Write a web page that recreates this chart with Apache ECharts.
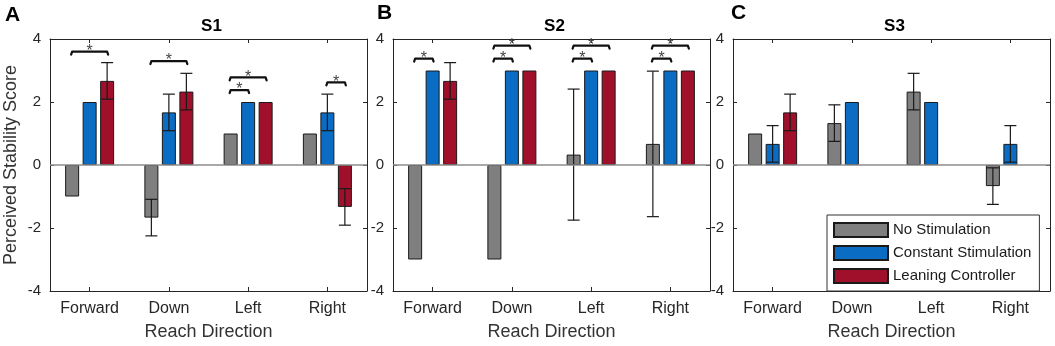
<!DOCTYPE html>
<html>
<head>
<meta charset="utf-8">
<script src="https://cdn.jsdelivr.net/npm/echarts@6/dist/echarts.min.js"></script>
<style>
  html, body { margin: 0; padding: 0; background: #fff; }
  #main { width: 1055px; height: 346px; }
</style>
</head>
<body>
<div id="main"></div>
<script>
// ---------- data ----------
var categories = ['Forward', 'Down', 'Left', 'Right'];
var seriesNames = ['No Stimulation', 'Constant Stimulation', 'Leaning Controller'];
var panelTitles = ['S1', 'S2', 'S3'];
var panelLetters = ['A', 'B', 'C'];

// mean scores, one array per condition
var s1None  = [-1, -1.67, 1, 1];
var s1Const = [2, 1.67, 2, 1.67];
var s1Lean  = [2.67, 2.33, 2, -1.33];
var s2None  = [-3, -3, 0.33, 0.67];
var s2Const = [3, 3, 3, 3];
var s2Lean  = [2.67, 3, 3, 3];
var s3None  = [1, 1.33, 2.33, -0.67];
var s3Const = [0.67, 2, 2, 0.67];
var s3Lean  = [1.67, null, null, null];

// standard deviations (0 = no error bar)
var s1NoneSd  = [0, 0.58, 0, 0];
var s1ConstSd = [0, 0.58, 0, 0.58];
var s1LeanSd  = [0.58, 0.58, 0, 0.58];
var s2NoneSd  = [0, 0, 2.08, 2.31];
var s2ConstSd = [0, 0, 0, 0];
var s2LeanSd  = [0.58, 0, 0, 0];
var s3NoneSd  = [0, 0.58, 0.58, 0.58];
var s3ConstSd = [0.58, 0, 0, 0.58];
var s3LeanSd  = [0.58, 0, 0, 0];

// significance brackets: [category, from condition, to condition, height]
var s1Sig = [[0, 0, 2, 3.6], [1, 0, 2, 3.3], [2, 0, 1, 2.38], [2, 0, 2, 2.78], [3, 1, 2, 2.62]];
var s2Sig = [[0, 0, 1, 3.38], [1, 0, 1, 3.38], [1, 0, 2, 3.79], [2, 0, 1, 3.38], [2, 0, 2, 3.79],
             [3, 0, 1, 3.38], [3, 0, 2, 3.79]];
var s3Sig = [];

var yTicks = [-4, -2, 0, 2, 4];

var panels = [
  { means: [s1None, s1Const, s1Lean], sds: [s1NoneSd, s1ConstSd, s1LeanSd], sig: s1Sig },
  { means: [s2None, s2Const, s2Lean], sds: [s2NoneSd, s2ConstSd, s2LeanSd], sig: s2Sig },
  { means: [s3None, s3Const, s3Lean], sds: [s3NoneSd, s3ConstSd, s3LeanSd], sig: s3Sig }
];

// ---------- layout ----------
var colors = ['#7f7f7f', '#0b6cc4', '#a0102b'];
var FONT = 'Liberation Sans, Arial, sans-serif';
var BAR_W = 14;
var BAR_STEP = BAR_W * 1.25;   // barWidth + barGap (25%)
var CAP = 12;
var gridLefts = [50, 393, 733];
var GRID_W = 317, GRID_TOP = 39, GRID_H = 257;
var ink = '#262626';

var chart = echarts.init(document.getElementById('main'));

function errRender(params, api) {
  var c = api.value(0), s = api.value(1), m = api.value(2), d = api.value(3);
  var top = api.coord([c, m + d]);
  var bot = api.coord([c, m - d]);
  var x = top[0] + (s - 1) * BAR_STEP;
  var st = { stroke: '#1a1a1a', lineWidth: 1.2 };
  return {
    type: 'group',
    children: [
      { type: 'line', shape: { x1: x, y1: top[1], x2: x, y2: bot[1] }, style: st },
      { type: 'line', shape: { x1: x - CAP / 2, y1: top[1], x2: x + CAP / 2, y2: top[1] }, style: st },
      { type: 'line', shape: { x1: x - CAP / 2, y1: bot[1], x2: x + CAP / 2, y2: bot[1] }, style: st }
    ]
  };
}

function sigRender(params, api) {
  var c = api.value(0), a = api.value(1), b = api.value(2), h = api.value(3);
  var p = api.coord([c, h]);
  var x1 = p[0] + (a - 1) * BAR_STEP - 1;
  var x2 = p[0] + (b - 1) * BAR_STEP + 1;
  var y = p[1];
  return {
    type: 'group',
    children: [
      { type: 'polyline',
        shape: { points: [[x1, y + 3], [x1 + 1, y], [x2 - 1, y], [x2, y + 3]] },
        style: { stroke: '#111', lineWidth: 2.2, fill: null, lineCap: 'round', lineJoin: 'round' } },
      { type: 'text', z2: 10,
        style: { x: (x1 + x2) / 2, y: y, text: '*', fill: '#444', fontSize: 16,
                 fontFamily: FONT, align: 'center', verticalAlign: 'middle' } }
    ]
  };
}

var grids = [], xAxes = [], yAxes = [], series = [], titles = [];

panels.forEach(function (pn, g) {
  grids.push({ left: gridLefts[g], top: GRID_TOP, width: GRID_W, height: GRID_H });

  var frameLine = { show: true, onZero: false, lineStyle: { color: ink, width: 1 } };
  var tick = { show: true, inside: true, length: 4, alignWithLabel: true, lineStyle: { color: ink } };

  // bottom and top x axes (frame + inside ticks)
  xAxes.push({
    type: 'category', gridIndex: g, data: categories, position: 'bottom',
    axisLine: frameLine, axisTick: tick,
    axisLabel: { color: ink, fontSize: 16, fontFamily: FONT, margin: 10 },
    name: 'Reach Direction', nameLocation: 'middle', nameGap: 32,
    nameTextStyle: { color: '#333', fontSize: 18, fontFamily: FONT }
  });
  xAxes.push({
    type: 'category', gridIndex: g, data: categories, position: 'top',
    axisLine: frameLine, axisTick: tick, axisLabel: { show: false }
  });

  // left and right y axes
  yAxes.push({
    type: 'value', gridIndex: g, position: 'left', min: yTicks[0], max: yTicks[yTicks.length - 1], interval: 2,
    axisLine: frameLine, axisTick: { show: true, inside: true, length: 4, lineStyle: { color: ink } },
    splitLine: { show: false },
    axisLabel: { color: ink, fontSize: 15, fontFamily: FONT, margin: 9 },
    name: g === 0 ? 'Perceived Stability Score' : '', nameLocation: 'middle', nameGap: 30,
    nameTextStyle: { color: '#333', fontSize: 18, fontFamily: FONT }
  });
  yAxes.push({
    type: 'value', gridIndex: g, position: 'right', min: yTicks[0], max: yTicks[yTicks.length - 1], interval: 2,
    axisLine: frameLine, axisTick: { show: true, inside: true, length: 4, lineStyle: { color: ink } },
    splitLine: { show: false }, axisLabel: { show: false }
  });

  var xi = g * 2, yi = g * 2;

  pn.means.forEach(function (vals, s) {
    var bar = {
      name: seriesNames[s], type: 'bar', xAxisIndex: xi, yAxisIndex: yi,
      data: vals, barWidth: BAR_W, barGap: '25%',
      itemStyle: { color: colors[s], borderColor: '#1a1a1a', borderWidth: 1 },
      emphasis: { disabled: true }
    };
    if (s === 0) {
      bar.markLine = {
        silent: true, symbol: 'none', label: { show: false },
        lineStyle: { color: '#8c8c8c', width: 1.5, type: 'solid' },
        data: [{ yAxis: 0 }]
      };
    }
    series.push(bar);
  });

  // error bars
  var errData = [];
  pn.sds.forEach(function (sdArr, s) {
    sdArr.forEach(function (sd, c) {
      if (sd > 0 && pn.means[s][c] !== null) errData.push([c, s, pn.means[s][c], sd]);
    });
  });
  series.push({
    type: 'custom', xAxisIndex: xi, yAxisIndex: yi, renderItem: errRender,
    data: errData, encode: { x: 0, y: 2 }, silent: true, z: 3, clip: false
  });

  // significance brackets
  series.push({
    type: 'custom', xAxisIndex: xi, yAxisIndex: yi, renderItem: sigRender,
    data: pn.sig, encode: { x: 0, y: 3 }, silent: true, z: 10, clip: false
  });

  titles.push({
    text: panelTitles[g], left: gridLefts[g] + GRID_W / 2 - 2, top: 13, textAlign: 'center',
    textStyle: { fontSize: 17, fontWeight: 'bold', color: '#000', fontFamily: FONT }
  });
});

var letterStyle = { fontSize: 21, fontWeight: 'bold', color: '#000', fontFamily: FONT };
titles.push({ text: panelLetters[0], left: 0, top: 0, textStyle: letterStyle });
titles.push({ text: panelLetters[1], left: 372, top: -2, textStyle: letterStyle });
titles.push({ text: panelLetters[2], left: 726, top: -2, textStyle: letterStyle });

var option = {
  backgroundColor: '#fff',
  animation: false,
  title: titles,
  grid: grids,
  xAxis: xAxes,
  yAxis: yAxes,
  legend: {
    data: seriesNames, orient: 'vertical', left: 827, top: 215,
    itemWidth: 54, itemHeight: 14, itemGap: 7, padding: [7, 8, 7, 6],
    icon: 'rect', borderColor: '#333', borderWidth: 1, backgroundColor: '#fff',
    textStyle: { fontSize: 15, color: '#1a1a1a', fontFamily: FONT },
    selectedMode: false
  },
  series: series
};
chart.setOption(option);
</script>
</body>
</html>
